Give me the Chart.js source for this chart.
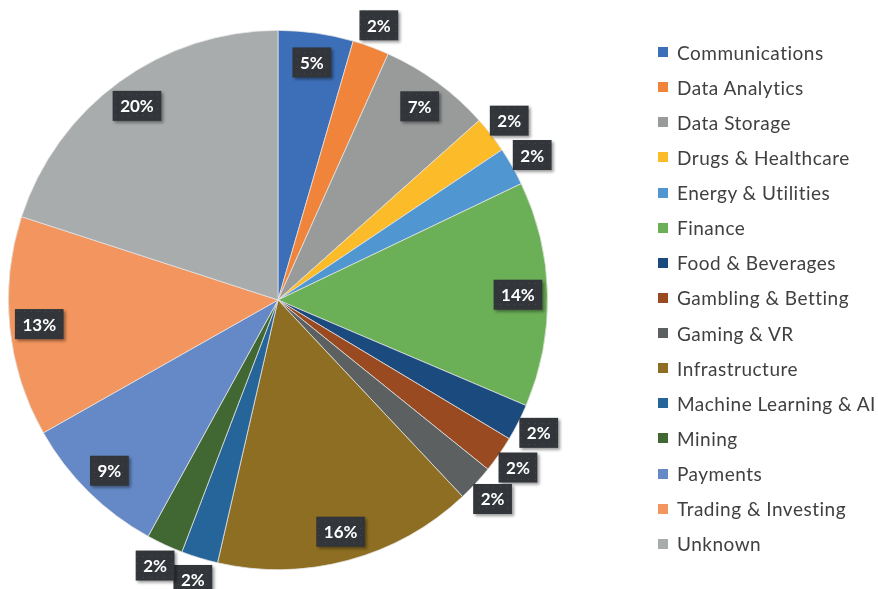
<!DOCTYPE html>
<html>
<head>
<meta charset="utf-8">
<script src="https://cdn.jsdelivr.net/npm/chart.js@4.4.1/dist/chart.umd.min.js"></script>
<style>
  html, body { margin: 0; padding: 0; background: #fff; }
  #wrap { position: relative; width: 878px; height: 589px; }
  #legend { position: absolute; left: 658px; top: 34.5px; font-family: Lato, sans-serif; font-size: 19px; letter-spacing: 0.5px; color: #404040; }
  .item { height: 35.14px; display: flex; align-items: center; white-space: nowrap; }
  .sw { width: 10px; height: 10px; margin-right: 9px; flex: none; }
</style>
</head>
<body>
<div id="wrap">
  <canvas id="pie" width="878" height="589"></canvas>
  <div id="legend"></div>
</div>
<script>
const sectors = ['Communications', 'Data Analytics', 'Data Storage', 'Drugs & Healthcare', 'Energy & Utilities',
  'Finance', 'Food & Beverages', 'Gambling & Betting', 'Gaming & VR', 'Infrastructure',
  'Machine Learning & AI', 'Mining', 'Payments', 'Trading & Investing', 'Unknown'];
// share of projects, percent
const shares = [4.5, 2.2, 6.7, 2.2, 2.3, 13.5, 2.2, 2.2, 2.2, 15.6, 2.2, 2.2, 8.8, 13.2, 20.0];
const colors = ['#3d6fb9', '#f0843a', '#999b9b', '#fcbc2a', '#5097d1', '#6baf56', '#1a4a7e', '#9a4a20',
  '#5d6061', '#8e6e22', '#256599', '#416733', '#6489c6', '#f3955e', '#a9acad'];

// dark label box with a faint dot texture
function boxPattern(ctx) {
  const c = document.createElement('canvas');
  c.width = 7; c.height = 7;
  const p = c.getContext('2d');
  p.fillStyle = '#32363a';
  p.fillRect(0, 0, 7, 7);
  p.fillStyle = '#474b4f';
  p.fillRect(3, 3, 1, 1);
  return ctx.createPattern(c, 'repeat');
}

const pctLabels = {
  id: 'pctLabels',
  afterDatasetsDraw(chart) {
    const ctx = chart.ctx;
    const fill = boxPattern(ctx);
    chart.getDatasetMeta(0).data.forEach((arc, i) => {
      const v = shares[i];
      const mid = (arc.startAngle + arc.endAngle) / 2;
      const r = v >= 4 ? arc.outerRadius * 0.89 : arc.outerRadius + 23;
      const x = arc.x + Math.cos(mid) * r;
      const y = arc.y + Math.sin(mid) * r;
      const txt = Math.round(v) + '%';
      ctx.save();
      ctx.font = 'bold 17px Lato, sans-serif';
      const w = ctx.measureText(txt).width + 15;
      const h = 30;
      ctx.shadowColor = 'rgba(0,0,0,0.4)';
      ctx.shadowBlur = 3;
      ctx.shadowOffsetX = 2;
      ctx.shadowOffsetY = 2;
      ctx.fillStyle = fill;
      ctx.fillRect(x - w / 2, y - h / 2, w, h);
      ctx.shadowColor = 'transparent';
      ctx.fillStyle = '#ffffff';
      ctx.textAlign = 'center';
      ctx.textBaseline = 'middle';
      ctx.fillText(txt, x, y + 1);
      ctx.restore();
    });
  }
};

const chart = new Chart(document.getElementById('pie'), {
  type: 'pie',
  data: {
    labels: sectors,
    datasets: [{
      data: shares,
      backgroundColor: colors,
      borderColor: '#e4e4e4',
      borderWidth: 0.75
    }]
  },
  options: {
    responsive: false,
    animation: false,
    layout: { padding: { left: 8, right: 330, top: 30, bottom: 19 } },
    plugins: {
      legend: { display: false },
      tooltip: { enabled: false }
    }
  },
  plugins: [pctLabels]
});

// legend built from the chart's own legend items
const legendEl = document.getElementById('legend');
chart.options.plugins.legend.labels.generateLabels(chart).forEach(item => {
  const row = document.createElement('div');
  row.className = 'item';
  row.innerHTML = `<span class="sw" style="background:${item.fillStyle}"></span><span>${item.text}</span>`;
  legendEl.appendChild(row);
});
</script>
</body>
</html>
